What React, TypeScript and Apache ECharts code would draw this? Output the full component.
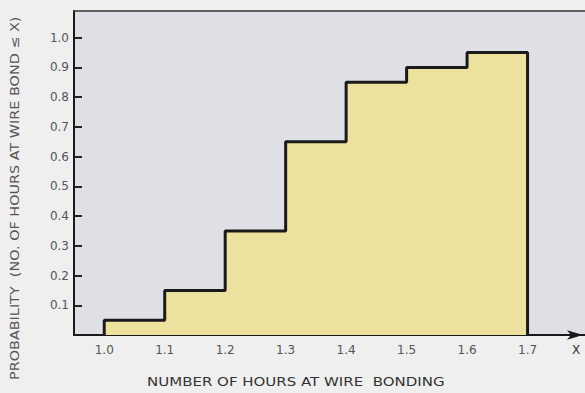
import React, { useEffect, useRef } from "react";
import * as echarts from "echarts";

const binEdges = [1.0, 1.1, 1.2, 1.3, 1.4, 1.5, 1.6, 1.7];
const probability = [0.05, 0.15, 0.35, 0.65, 0.85, 0.9, 0.95];
const xTicks = [1.0, 1.1, 1.2, 1.3, 1.4, 1.5, 1.6, 1.7];
const yTicks = [0.1, 0.2, 0.3, 0.4, 0.5, 0.6, 0.7, 0.8, 0.9, 1.0];
const xTitle = "NUMBER OF HOURS AT WIRE  BONDING";
const yTitle = "PROBABILITY  (NO. OF HOURS AT WIRE BOND \u2264 X)";

const FONT = "'DejaVu Sans', sans-serif";

export default function App() {
  const ref = useRef<HTMLDivElement>(null);
  useEffect(() => {
    if (!ref.current) return;
    const chart = echarts.init(ref.current, undefined, { renderer: "svg" });
    const data: number[][] = [[binEdges[0], 0]];
    probability.forEach((p, i) => data.push([binEdges[i], p]));
    data.push([binEdges[binEdges.length - 1], probability[probability.length - 1]]);
    data.push([binEdges[binEdges.length - 1], 0]);

    chart.setOption({
      animation: false,
      backgroundColor: "#efefef",
      grid: {
        left: 74,
        top: 11,
        right: 0,
        bottom: 58,
        show: true,
        backgroundColor: "#dfe0e5",
        borderWidth: 0,
        containLabel: false,
        outerBoundsMode: "none",
      },
      xAxis: [
        {
          type: "value",
          min: 0.95,
          max: 1.795,
          name: "X",
          nameLocation: "end",
          nameGap: -13,
          nameTextStyle: { color: "#333", fontSize: 12, fontFamily: FONT, verticalAlign: "top", padding: [9, 0, 0, 0] },
          axisLine: {
            show: true,
            lineStyle: { color: "#1a1a1a", width: 2 },
            symbol: ["none", "arrow"],
            symbolSize: [7, 16],
            symbolOffset: [0, -2],
          },
          axisTick: {
            show: true,
            inside: true,
            length: 7,
            customValues: xTicks,
            lineStyle: { color: "#333", width: 1.5 },
          },
          axisLabel: {
            show: true,
            customValues: xTicks,
            formatter: (v: number) => v.toFixed(1),
            color: "#555",
            fontSize: 12,
            fontFamily: FONT,
            margin: 9,
          },
          splitLine: { show: false },
        },
        {
          type: "value",
          position: "top",
          min: 0.95,
          max: 1.795,
          axisLine: { show: true, onZero: false, lineStyle: { color: "#333", width: 1.5 } },
          axisTick: { show: false },
          axisLabel: { show: false },
          splitLine: { show: false },
        },
      ],
      yAxis: {
        type: "value",
        min: 0,
        max: 1.09,
        axisLine: { show: true, lineStyle: { color: "#1a1a1a", width: 2 } },
        axisTick: {
          show: true,
          inside: true,
          length: 8,
          customValues: yTicks,
          lineStyle: { color: "#222", width: 2 },
        },
        axisLabel: {
          show: true,
          customValues: yTicks,
          formatter: (v: number) => v.toFixed(1),
          color: "#555",
          fontSize: 12,
          fontFamily: FONT,
          margin: 5,
        },
        splitLine: { show: false },
      },
      series: [
        {
          type: "line",
          step: "end",
          data,
          symbol: "none",
          xAxisIndex: 0,
          lineStyle: { color: "#1a1a1a", width: 3 },
          areaStyle: { color: "#ece19d", opacity: 1 },
        },
      ],
      graphic: [
        {
          type: "text",
          x: 147,
          y: 382,
          scaleX: 1.25,
          style: { text: xTitle, fill: "#333", font: `12px ${FONT}`, textVerticalAlign: "middle" },
        },
        {
          type: "text",
          x: 15,
          y: 380,
          rotation: Math.PI / 2,
          scaleX: 1.2,
          style: { text: yTitle, fill: "#555", font: `12px ${FONT}`, textAlign: "left", textVerticalAlign: "middle" },
        },
      ],
    });
    return () => chart.dispose();
  }, []);
  return (
    <div
      ref={ref}
      style={{ position: "fixed", left: 0, top: 0, width: 585, height: 393 }}
    />
  );
}
